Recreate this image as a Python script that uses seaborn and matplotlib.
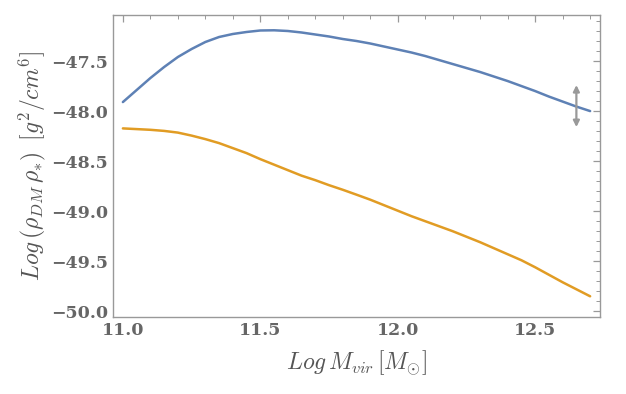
import pandas as pd
import matplotlib.pyplot as plt
import seaborn as sns
import numpy as np
from matplotlib.ticker import MultipleLocator

# values
log_mvir = [11.00, 11.05, 11.10, 11.15, 11.20, 11.25, 11.30, 11.35, 11.40, 11.45,
            11.50, 11.55, 11.60, 11.65, 11.70, 11.75, 11.80, 11.85, 11.90, 11.95,
            12.00, 12.05, 12.10, 12.15, 12.20, 12.25, 12.30, 12.35, 12.40, 12.45,
            12.50, 12.55, 12.60, 12.65, 12.70]
upper = [-47.910, -47.790, -47.670, -47.560, -47.460, -47.380, -47.310, -47.260, -47.230, -47.210,
         -47.195, -47.193, -47.200, -47.215, -47.235, -47.255, -47.280, -47.300, -47.325, -47.355,
         -47.385, -47.415, -47.450, -47.490, -47.530, -47.570, -47.610, -47.655, -47.700, -47.750,
         -47.800, -47.855, -47.905, -47.955, -48.000]
lower = [-48.173, -48.180, -48.187, -48.198, -48.215, -48.245, -48.280, -48.320, -48.370, -48.420,
         -48.480, -48.535, -48.590, -48.645, -48.690, -48.740, -48.786, -48.835, -48.885, -48.940,
         -48.995, -49.050, -49.100, -49.150, -49.200, -49.255, -49.310, -49.370, -49.430, -49.490,
         -49.560, -49.635, -49.710, -49.780, -49.850]
arrow_x = 12.65
arrow_span = [-47.74, -48.16]

df = pd.concat([
    pd.DataFrame({"x": log_mvir, "y": upper, "curve": "upper"}),
    pd.DataFrame({"x": log_mvir, "y": lower, "curve": "lower"}),
])

sns.set_style("white")
plt.rcParams["mathtext.fontset"] = "cm"

fig = plt.figure(figsize=(6.26, 3.94), dpi=100)
ax = fig.add_axes([0.1805, 0.1954, 0.778, 0.7666])

sns.lineplot(data=df, x="x", y="y", hue="curve",
             palette={"upper": "#5e81b5", "lower": "#e19c24"},
             linewidth=1.8, legend=False, ax=ax)

ax.annotate("", xy=(arrow_x, arrow_span[0]), xytext=(arrow_x, arrow_span[1]),
            arrowprops=dict(arrowstyle="<|-|>", color="#999999", lw=1.6,
                            mutation_scale=9, shrinkA=0, shrinkB=0))

ax.set_xlim(10.964, 12.736)
ax.set_ylim(-50.057, -47.04)
ax.xaxis.set_major_locator(MultipleLocator(0.5))
ax.xaxis.set_minor_locator(MultipleLocator(0.1))
ax.yaxis.set_major_locator(MultipleLocator(0.5))
ax.yaxis.set_minor_locator(MultipleLocator(0.1))
ax.set_xticks([11.0, 11.5, 12.0, 12.5])
ax.set_xticklabels(["11.0", "11.5", "12.0", "12.5"])
ax.set_yticks([-50.0, -49.5, -49.0, -48.5, -48.0, -47.5])
ax.set_yticklabels(["\u221250.0", "\u221249.5", "\u221249.0", "\u221248.5", "\u221248.0", "\u221247.5"])

ax.tick_params(which="both", direction="in", top=True, right=True,
               color="#999999", labelcolor="#666666", labelsize=12.5)
ax.tick_params(which="major", length=5, width=0.9)
ax.tick_params(which="minor", length=3, width=0.7)
for lab in ax.get_xticklabels() + ax.get_yticklabels():
    lab.set_fontfamily("DejaVu Serif")
    lab.set_fontweight("bold")
for s in ax.spines.values():
    s.set_color("#999999")
    s.set_linewidth(1.0)

ax.set_xlabel(r"$Log\,M_{vir}\,[M_{\odot}]$", fontsize=17, color="#555555", labelpad=7)
ax.set_ylabel(r"$Log\,(\rho_{DM}\,\rho_{*})\;\;[g^2/cm^6]$", fontsize=17,
              color="#555555", labelpad=2)

fig.savefig("out.png", dpi=100)
